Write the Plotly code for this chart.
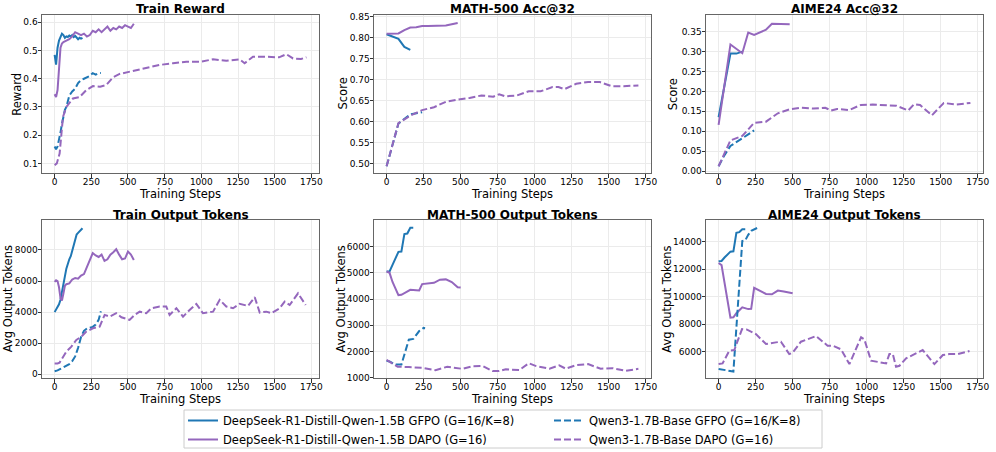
import plotly.graph_objects as go
from plotly.subplots import make_subplots

BLUE = '#1f77b4'
PURPLE = '#9467bd'

names = ['DeepSeek-R1-Distill-Qwen-1.5B GFPO (G=16/K=8)',
         'DeepSeek-R1-Distill-Qwen-1.5B DAPO (G=16)',
         'Qwen3-1.7B-Base GFPO (G=16/K=8)',
         'Qwen3-1.7B-Base DAPO (G=16)']

titles = ['Train Reward', 'MATH-500 Acc@32', 'AIME24 Acc@32',
          'Train Output Tokens', 'MATH-500 Output Tokens', 'AIME24 Output Tokens']

# ---- Train Reward ----
rew_ds_gfpo_x = [0, 5, 10, 15, 20, 30, 40, 50, 60, 70, 80, 90, 100, 110, 120, 130, 140, 150, 160, 170, 180, 190]
rew_ds_gfpo_y = [0.485, 0.46, 0.45, 0.48, 0.51, 0.535, 0.55, 0.56, 0.555, 0.545, 0.55, 0.548, 0.553, 0.55, 0.555,
                 0.548, 0.552, 0.545, 0.54, 0.545, 0.542, 0.545]
rew_ds_dapo_x = [0, 10, 20, 30, 40, 50, 60, 80, 100, 120, 140, 160, 180, 200, 220, 240, 260, 280, 300, 320, 340,
                 360, 380, 400, 420, 440, 460, 480, 500, 520, 540]
rew_ds_dapo_y = [0.345, 0.335, 0.36, 0.45, 0.51, 0.525, 0.53, 0.535, 0.54, 0.55, 0.565, 0.56, 0.555, 0.56, 0.55,
                 0.555, 0.57, 0.565, 0.575, 0.565, 0.575, 0.585, 0.57, 0.58, 0.575, 0.585, 0.58, 0.59, 0.585, 0.58,
                 0.595]
rew_qw_gfpo_x = [0, 10, 20, 30, 40, 50, 60, 70, 80, 90, 100, 120, 140, 160, 180, 200, 220, 240, 260, 280, 300, 315]
rew_qw_gfpo_y = [0.16, 0.15, 0.16, 0.18, 0.21, 0.24, 0.27, 0.29, 0.30, 0.32, 0.34, 0.355, 0.365, 0.385, 0.395,
                 0.40, 0.405, 0.41, 0.42, 0.415, 0.42, 0.42]
rew_qw_dapo_x = [0, 15, 34, 57, 80, 125, 170, 216, 261, 310, 352, 398, 443, 534, 625, 716, 807, 898, 989, 1080,
                 1170, 1261, 1295, 1352, 1443, 1530, 1580, 1625, 1680, 1716]
rew_qw_dapo_y = [0.094, 0.10, 0.135, 0.265, 0.30, 0.33, 0.335, 0.36, 0.374, 0.372, 0.378, 0.405, 0.417, 0.427,
                 0.437, 0.449, 0.455, 0.46, 0.46, 0.469, 0.464, 0.469, 0.455, 0.478, 0.478, 0.476, 0.487, 0.472,
                 0.47, 0.476]

# ---- MATH-500 Acc@32 ----
m_acc_ds_gfpo_x = [0, 40, 80, 120, 160]
m_acc_ds_gfpo_y = [0.808, 0.803, 0.797, 0.778, 0.771]
m_acc_ds_dapo_x = [0, 40, 80, 120, 160, 200, 240, 280, 320, 360, 400, 440, 480]
m_acc_ds_dapo_y = [0.809, 0.809, 0.810, 0.818, 0.824, 0.825, 0.828, 0.828, 0.828, 0.829, 0.829, 0.832, 0.835]
m_acc_qw_gfpo_x = [0, 80, 160, 240]
m_acc_qw_gfpo_y = [0.493, 0.595, 0.617, 0.622]
m_acc_qw_dapo_x = [0, 80, 160, 240, 320, 400, 480, 560, 640, 720, 760, 800, 880, 960, 1040, 1120, 1160, 1200,
                   1280, 1360, 1440, 1520, 1600, 1700]
m_acc_qw_dapo_y = [0.493, 0.596, 0.614, 0.627, 0.634, 0.647, 0.652, 0.656, 0.662, 0.659, 0.665, 0.660, 0.662,
                   0.672, 0.672, 0.682, 0.682, 0.677, 0.690, 0.694, 0.694, 0.684, 0.684, 0.686]

# ---- AIME24 Acc@32 ----
a_acc_ds_gfpo_x = [0, 80, 120, 160]
a_acc_ds_gfpo_y = [0.135, 0.295, 0.295, 0.300]
a_acc_ds_dapo_x = [0, 80, 160, 200, 240, 320, 360, 400, 480]
a_acc_ds_dapo_y = [0.116, 0.318, 0.296, 0.348, 0.342, 0.355, 0.370, 0.370, 0.369]
a_acc_qw_gfpo_x = [0, 40, 80, 120, 160, 200, 240]
a_acc_qw_gfpo_y = [0.012, 0.040, 0.063, 0.072, 0.082, 0.092, 0.102]
a_acc_qw_dapo_x = [0, 80, 160, 240, 320, 400, 480, 560, 640, 720, 760, 800, 880, 960, 1040, 1120, 1200, 1280,
                   1320, 1360, 1440, 1520, 1600, 1700]
a_acc_qw_dapo_y = [0.012, 0.077, 0.088, 0.121, 0.124, 0.145, 0.155, 0.159, 0.157, 0.159, 0.152, 0.156, 0.153,
                   0.166, 0.167, 0.165, 0.164, 0.152, 0.168, 0.166, 0.140, 0.171, 0.167, 0.171]

# ---- Train Output Tokens ----
t_tok_ds_gfpo_x = [0, 10, 20, 30, 40, 50, 60, 70, 80, 90, 100, 110, 120, 130, 140, 150, 160, 170, 180, 190]
t_tok_ds_gfpo_y = [4000, 4150, 4300, 4500, 4800, 5400, 5900, 6300, 6800, 7200, 7400, 7600, 8000, 8300, 8800,
                   9000, 9100, 9200, 9300, 9400]
t_tok_ds_dapo_x = [0, 10, 20, 30, 40, 50, 60, 70, 80, 100, 120, 140, 160, 180, 200, 220, 240, 260, 280, 300, 320,
                   340, 360, 380, 400, 420, 440, 460, 480, 500, 520, 540]
t_tok_ds_dapo_y = [5950, 6050, 6000, 5600, 4900, 4750, 5200, 5700, 5800, 5850, 6100, 6200, 6150, 6350, 6450, 6900,
                   7400, 7800, 7650, 7550, 7700, 7300, 7400, 7700, 7850, 8050, 7700, 7400, 7450, 7900, 7700, 7350]
t_tok_qw_gfpo_x = [0, 20, 40, 60, 80, 100, 120, 140, 160, 180, 200, 220, 240, 260, 280, 300, 315]
t_tok_qw_gfpo_y = [200, 250, 350, 450, 550, 650, 850, 1150, 1700, 2400, 2800, 2950, 3000, 3050, 3200, 3500, 4050]
t_tok_qw_dapo_x = [0, 20, 34, 57, 80, 114, 148, 182, 216, 261, 307, 341, 375, 420, 455, 511, 545, 580, 625, 659,
                   716, 761, 784, 830, 875, 920, 966, 1011, 1080, 1125, 1170, 1216, 1261, 1318, 1364, 1398, 1443,
                   1477, 1534, 1568, 1602, 1659, 1693, 1711]
t_tok_qw_dapo_y = [700, 700, 750, 1140, 1460, 1780, 2210, 2420, 2750, 2960, 3070, 3820, 3710, 3930, 3670, 3500,
                   3820, 4030, 3930, 4250, 4360, 4360, 3820, 4250, 3710, 4140, 4530, 3930, 4030, 4790, 4360, 4250,
                   4530, 4400, 4960, 3970, 4030, 3930, 4250, 4680, 4460, 5210, 4680, 4460]

# ---- MATH-500 Output Tokens ----
m_tok_ds_gfpo_x = [0, 20, 40, 60, 80, 100, 120, 140, 160, 180]
m_tok_ds_gfpo_y = [5050, 5050, 5300, 5550, 5800, 5810, 6480, 6500, 6720, 6720]
m_tok_ds_dapo_x = [0, 20, 40, 80, 100, 120, 160, 200, 220, 240, 280, 320, 360, 400, 440, 480, 500]
m_tok_ds_dapo_y = [5050, 5000, 4650, 4150, 4160, 4220, 4350, 4340, 4330, 4570, 4590, 4620, 4740, 4750, 4650,
                   4450, 4440]
m_tok_qw_gfpo_x = [0, 20, 60, 100, 150, 180, 220, 250, 260]
m_tok_qw_gfpo_y = [1650, 1620, 1500, 1500, 2450, 2480, 2780, 2900, 2890]
m_tok_qw_dapo_x = [0, 30, 75, 150, 240, 330, 410, 510, 580, 650, 715, 760, 805, 895, 960, 1010, 1100, 1165, 1210,
                   1280, 1360, 1445, 1525, 1615, 1700]
m_tok_qw_dapo_y = [1680, 1570, 1420, 1405, 1380, 1290, 1420, 1340, 1440, 1445, 1255, 1255, 1320, 1290, 1550, 1445,
                   1345, 1470, 1345, 1480, 1520, 1345, 1365, 1265, 1340]

# ---- AIME24 Output Tokens ----
a_tok_ds_gfpo_x = [0, 20, 40, 60, 80, 100, 120, 140, 160, 180]
a_tok_ds_gfpo_y = [12580, 12600, 12850, 13100, 13280, 13300, 14650, 14700, 14900, 14900]
a_tok_ds_dapo_x = [0, 20, 80, 100, 120, 160, 200, 220, 240, 280, 320, 360, 400, 440, 500]
a_tok_ds_dapo_y = [12450, 12300, 8480, 8500, 8800, 9230, 9100, 9120, 10650, 10450, 10200, 10180, 10450, 10380,
                   10250]
a_tok_qw_gfpo_x = [0, 40, 80, 100, 160, 180, 200, 220, 260]
a_tok_qw_gfpo_y = [4750, 4680, 4600, 4560, 14050, 14100, 14500, 14800, 15000]
a_tok_qw_dapo_x = [0, 27, 72, 106, 158, 189, 252, 320, 387, 421, 477, 500, 556, 590, 658, 736, 770, 827, 883, 962,
                   984, 1029, 1131, 1153, 1176, 1198, 1221, 1266, 1311, 1378, 1457, 1514, 1559, 1615, 1694]
a_tok_qw_dapo_y = [5100, 5150, 6070, 6120, 7650, 7620, 7280, 6560, 6680, 6730, 5830, 5930, 6730, 6850, 7140, 6440,
                   6440, 6170, 5100, 7050, 6900, 5350, 5150, 5830, 5830, 4910, 4980, 5520, 5760, 6120, 5100, 5760,
                   5830, 5830, 6050]

panels = [
    [(rew_ds_gfpo_x, rew_ds_gfpo_y), (rew_ds_dapo_x, rew_ds_dapo_y), (rew_qw_gfpo_x, rew_qw_gfpo_y), (rew_qw_dapo_x, rew_qw_dapo_y)],
    [(m_acc_ds_gfpo_x, m_acc_ds_gfpo_y), (m_acc_ds_dapo_x, m_acc_ds_dapo_y), (m_acc_qw_gfpo_x, m_acc_qw_gfpo_y), (m_acc_qw_dapo_x, m_acc_qw_dapo_y)],
    [(a_acc_ds_gfpo_x, a_acc_ds_gfpo_y), (a_acc_ds_dapo_x, a_acc_ds_dapo_y), (a_acc_qw_gfpo_x, a_acc_qw_gfpo_y), (a_acc_qw_dapo_x, a_acc_qw_dapo_y)],
    [(t_tok_ds_gfpo_x, t_tok_ds_gfpo_y), (t_tok_ds_dapo_x, t_tok_ds_dapo_y), (t_tok_qw_gfpo_x, t_tok_qw_gfpo_y), (t_tok_qw_dapo_x, t_tok_qw_dapo_y)],
    [(m_tok_ds_gfpo_x, m_tok_ds_gfpo_y), (m_tok_ds_dapo_x, m_tok_ds_dapo_y), (m_tok_qw_gfpo_x, m_tok_qw_gfpo_y), (m_tok_qw_dapo_x, m_tok_qw_dapo_y)],
    [(a_tok_ds_gfpo_x, a_tok_ds_gfpo_y), (a_tok_ds_dapo_x, a_tok_ds_dapo_y), (a_tok_qw_gfpo_x, a_tok_qw_gfpo_y), (a_tok_qw_dapo_x, a_tok_qw_dapo_y)],
]

ylabels = ['Reward', 'Score', 'Score', 'Avg Output Tokens', 'Avg Output Tokens', 'Avg Output Tokens']
yranges = [[0.066, 0.626], [0.477, 0.854], [-0.005, 0.392], [-240, 9930], [990, 7014], [4090, 15580]]
yticks = [[0.1, 0.2, 0.3, 0.4, 0.5, 0.6],
          [0.5, 0.55, 0.6, 0.65, 0.7, 0.75, 0.8, 0.85],
          [0, 0.05, 0.1, 0.15, 0.2, 0.25, 0.3, 0.35],
          [0, 2000, 4000, 6000, 8000],
          [1000, 2000, 3000, 4000, 5000, 6000],
          [6000, 8000, 10000, 12000, 14000]]
yfmt = ['.1f', '.2f', '.2f', 'd', 'd', 'd']
xranges = [[-86, 1802], [-85, 1785], [-85, 1785], [-86, 1802], [-85, 1785], [-85, 1785]]
xticks = [0, 250, 500, 750, 1000, 1250, 1500, 1750]

# pixel geometry of the figure (plot area: left 42, right 983, top 15, bottom 378)
W, H = 996, 452
ML, MR, MT, MB = 42, 13, 15, 74
PW, PH = W - ML - MR, H - MT - MB


def px(x):
    return (x - ML) / PW


def py(y):
    return (H - MB - y) / PH


ylabel_x = [16.7, 342.5, 673.3, 8.3, 340.5, 666.7]
ylabel_y = [94, 94, 94, 299, 299, 299]

colors = [BLUE, PURPLE, BLUE, PURPLE]
dashes = ['solid', 'solid', '7px,3px', '7px,3px']
legends = ['legend', 'legend', 'legend2', 'legend2']

fig = make_subplots(rows=2, cols=3, subplot_titles=[f'<b>{t}</b>' for t in titles],
                    horizontal_spacing=55 / PW, vertical_spacing=47 / PH)

for i, series in enumerate(panels):
    row, col = i // 3 + 1, i % 3 + 1
    for j, (xs, ys) in enumerate(series):
        fig.add_trace(go.Scatter(x=xs, y=ys, mode='lines', name=names[j],
                                 line=dict(color=colors[j], width=2, dash=dashes[j]),
                                 legend=legends[j], showlegend=(i == 0)),
                      row=row, col=col)
    fig.update_xaxes(range=xranges[i], tickvals=xticks, title_text='Training Steps', row=row, col=col)
    fig.update_yaxes(range=yranges[i], tickvals=yticks[i], tickformat=yfmt[i], row=row, col=col)

axis_style = dict(showline=True, linecolor='#666666', linewidth=1, mirror=True,
                  ticks='outside', ticklen=3.5, tickwidth=0.8, tickcolor='#333333',
                  showgrid=True, gridcolor='#ebebeb', gridwidth=0.8, zeroline=False,
                  tickfont=dict(size=9, color='black'), title_font=dict(size=11.5, color='black'),
                  automargin=False)
fig.update_xaxes(**axis_style, title_standoff=0, ticklabelstandoff=-3)
fig.update_yaxes(**axis_style, ticklabelstandoff=-2)

for ann in fig.layout.annotations:
    ann.font = dict(size=12, color='black', family='DejaVu Sans')
    ann.yshift = -3.5

# y axis titles
for i, lab in enumerate(ylabels):
    fig.add_annotation(text=lab, xref='paper', yref='paper', x=px(ylabel_x[i]), y=py(ylabel_y[i]),
                       xanchor='center', yanchor='middle', textangle=-90, showarrow=False,
                       font=dict(size=11.5, color='black'))

# legend frame
fig.add_shape(type='rect', xref='paper', yref='paper', x0=px(184), x1=px(822), y0=py(448), y1=py(410),
              line=dict(color='#cccccc', width=1), fillcolor='white', layer='below')

leg_common = dict(orientation='v', yanchor='top', xanchor='left', font=dict(size=11.5, color='black'),
                  bgcolor='rgba(0,0,0,0)', borderwidth=0, tracegroupgap=0)

fig.update_layout(
    template='none',
    width=W, height=H,
    margin=dict(l=ML, r=MR, t=MT, b=MB, autoexpand=False),
    paper_bgcolor='white', plot_bgcolor='white',
    font=dict(family='DejaVu Sans', color='black'),
    legend=dict(x=px(183), y=py(406), **leg_common),
    legend2=dict(x=px(549), y=py(406), **leg_common),
)

fig.write_html('out.html', config={'displayModeBar': False},
               post_script="document.body.style.margin='0px';")
